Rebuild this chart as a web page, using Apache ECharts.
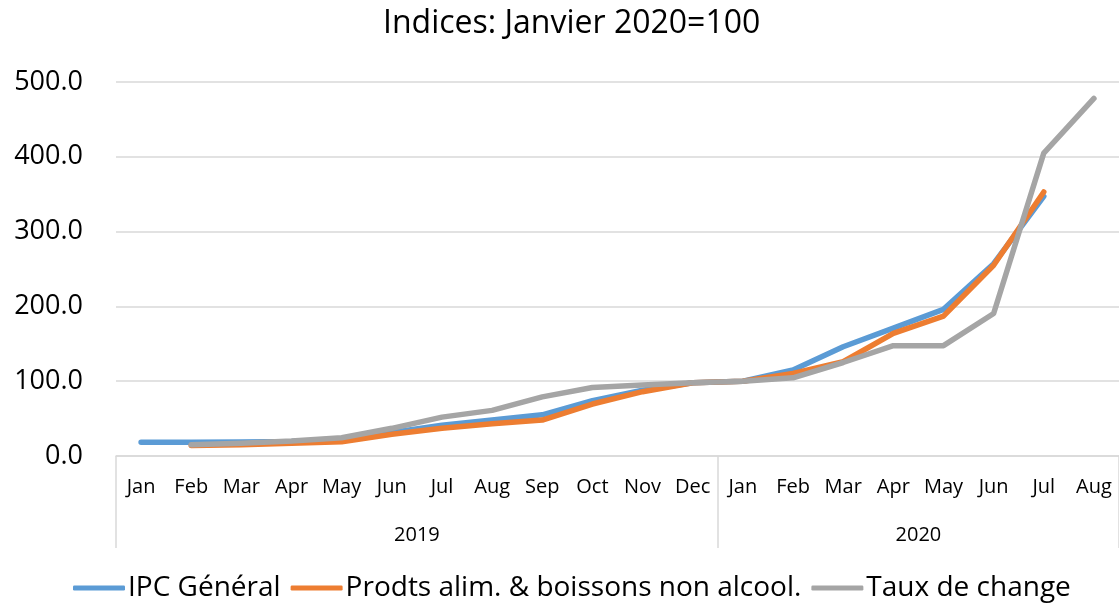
<!DOCTYPE html>
<html>
<head>
<meta charset="utf-8">
<script src="https://cdn.jsdelivr.net/npm/echarts@6/dist/echarts.min.js"></script>
<style>
	html, body { margin: 0; padding: 0; background: #fff; }
	#chart { width: 1119px; height: 604px; }
</style>
</head>
<body>
<div id="chart"></div>
<script>
	// mois (2019 puis 2020)
	const months = ['Jan','Feb','Mar','Apr','May','Jun','Jul','Aug','Sep','Oct','Nov','Dec',
		'Jan','Feb','Mar','Apr','May','Jun','Jul','Aug'];
	const years = ['2019', '2020'];
	const yearSpans = [12, 8];   // nombre de mois par année

	const ipcGeneral = [18.3, 18.5, 18.8, 19.5, 22, 31.5, 41, 48, 55, 74, 88, 98,
		100, 115, 146, 171, 196, 257, 347, null];
	const prodtsAlim = [null, 14, 15, 17, 19, 29, 37, 43, 48, 69.5, 86, 98,
		100, 110.5, 126, 164, 187, 255, 353, null];
	const tauxChange = [null, 15, 17, 20, 24.5, 37, 52, 61, 79, 91.5, 95, 98,
		100, 104.5, 125, 147.5, 147.5, 190.5, 405, 478];

	// bornes et centres des années pour l'axe à deux niveaux
	let yearBounds = [0];
	let yearCenters = {};
	yearSpans.forEach((n, i) => {
		let start = yearBounds[yearBounds.length - 1];
		yearCenters[start + n / 2] = years[i];
		yearBounds.push(start + n);
	});

	const font = '"Open Sans", sans-serif';

	let chart = echarts.init(document.getElementById('chart'));
	let option = {
		animation: false,
		color: ['#5B9BD5', '#ED7D31', '#A5A5A5'],
		textStyle: { fontFamily: font, color: '#000' },
		title: {
			text: 'Indices: Janvier 2020=100',
			left: 378,
			top: 3,
			textStyle: { fontFamily: font, fontSize: 32, fontWeight: 'normal', color: '#000' }
		},
		legend: {
			bottom: -3,
			left: 68,
			icon: 'roundRect',
			itemWidth: 52,
			itemHeight: 5,
			itemGap: 10,
			textStyle: { fontFamily: font, fontSize: 28, color: '#000', padding: [0, 0, 0, -2] },
			data: ['IPC Général', 'Prodts alim. & boissons non alcool.', 'Taux de change']
		},
		grid: { left: 116, right: 0, top: 82, bottom: 148 },
		xAxis: [
			{
				type: 'category',
				data: months,
				axisLine: { lineStyle: { color: '#d9d9d9', width: 1.5 } },
				axisTick: { show: false },
				axisLabel: { fontSize: 20, color: '#000', margin: 21, interval: 0 }
			},
			{
				type: 'value',
				position: 'bottom',
				offset: 92,
				min: 0,
				max: months.length,
				axisLine: { show: false },
				splitLine: { show: false },
				axisTick: {
					show: true,
					inside: true,
					length: 92,
					customValues: yearBounds,
					lineStyle: { color: '#d9d9d9', width: 1.5 }
				},
				axisLabel: {
					inside: true,
					margin: 3,
					fontSize: 20,
					color: '#000',
					customValues: Object.keys(yearCenters).map(Number),
					formatter: v => yearCenters[v] || ''
				}
			}
		],
		yAxis: {
			type: 'value',
			min: 0,
			max: 500,
			interval: 100,
			axisLine: { show: false },
			axisTick: { show: false },
			axisLabel: {
				fontSize: 27,
				color: '#000',
				margin: 33,
				formatter: v => v.toFixed(1)
			},
			splitLine: { lineStyle: { color: '#d9d9d9', width: 1.5 } }
		},
		series: [
			{
				name: 'IPC Général',
				type: 'line',
				data: ipcGeneral,
				symbol: 'none',
				lineStyle: { width: 5.5, cap: 'round', join: 'round' }
			},
			{
				name: 'Prodts alim. & boissons non alcool.',
				type: 'line',
				data: prodtsAlim,
				symbol: 'none',
				lineStyle: { width: 5.5, cap: 'round', join: 'round' }
			},
			{
				name: 'Taux de change',
				type: 'line',
				data: tauxChange,
				symbol: 'none',
				lineStyle: { width: 5.5, cap: 'round', join: 'round' }
			}
		]
	};
	chart.setOption(option);
</script>
</body>
</html>
